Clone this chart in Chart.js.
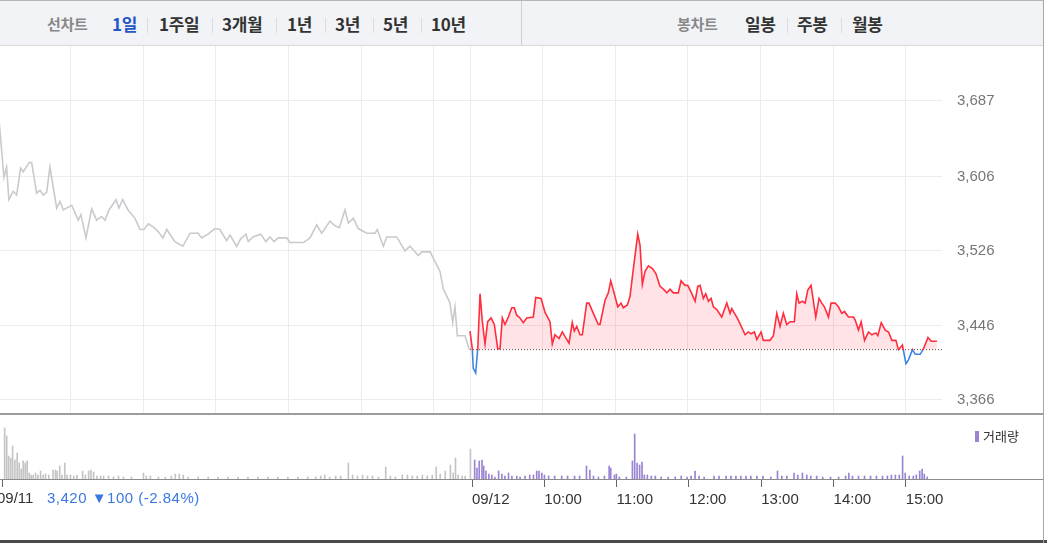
<!DOCTYPE html>
<html lang="ko">
<head>
<meta charset="utf-8">
<script src="https://cdn.jsdelivr.net/npm/chart.js@4.4.1/dist/chart.umd.min.js"></script>
<style>
  body{margin:0;width:1047px;height:543px;overflow:hidden;background:#fff;position:relative;font-family:"Liberation Sans",Arial,"Noto Sans CJK KR",sans-serif}
  #top{position:absolute;left:0;top:0;width:1044px;height:44px;background:#f2f3f7;border-top:1px solid #b5b5b5;border-bottom:1px solid #d9d9d9}
  .t{position:absolute;top:0;line-height:46px;font-size:17px;font-weight:bold;color:#333;font-family:"Noto Sans CJK KR",sans-serif;letter-spacing:-0.3px;white-space:nowrap}
  .g{font-size:15px;color:#888}
  .sep{position:absolute;top:17px;width:1px;height:15px;background:#dcdcdc}
  canvas{position:absolute;left:-2px}
  #price{top:46px}
  #vol{top:415px}
  .line{position:absolute;left:0}
  #info{position:absolute;top:488px;left:47px;font-size:15px;color:#3a78e0;white-space:nowrap;line-height:20px;letter-spacing:0.5px}
  #day1{position:absolute;top:488px;left:-3px;font-size:15px;color:#333;line-height:20px}
  #lg{position:absolute;top:427px;left:975px;font-size:13px;color:#333;font-family:"Noto Sans CJK KR",sans-serif;line-height:18px;white-space:nowrap}
  #lg i{display:inline-block;width:4px;height:11px;background:#9b83d3;margin-right:4px;vertical-align:-1px}
</style>
</head>
<body>
<div id="top">
  <span class="t g" style="left:47px">선차트</span>
  <span class="t" style="left:112px;color:#2456c6">1일</span>
  <div class="sep" style="left:147px"></div>
  <span class="t" style="left:159px">1주일</span>
  <div class="sep" style="left:212px"></div>
  <span class="t" style="left:222px">3개월</span>
  <div class="sep" style="left:276px"></div>
  <span class="t" style="left:287px">1년</span>
  <div class="sep" style="left:325px"></div>
  <span class="t" style="left:335px">3년</span>
  <div class="sep" style="left:373px"></div>
  <span class="t" style="left:383px">5년</span>
  <div class="sep" style="left:421px"></div>
  <span class="t" style="left:431px">10년</span>
  <div class="sep" style="left:521px;top:0;height:44px;background:#cfcfcf"></div>
  <span class="t g" style="left:677px">봉차트</span>
  <span class="t" style="left:745px">일봉</span>
  <div class="sep" style="left:787px"></div>
  <span class="t" style="left:797px">주봉</span>
  <div class="sep" style="left:841px"></div>
  <span class="t" style="left:852px">월봉</span>
</div>

<canvas id="price" width="1049" height="367"></canvas>
<canvas id="vol" width="1049" height="128"></canvas>

<div class="line" style="top:413px;width:1044px;height:2px;background:#9c9c9c"></div>
<div class="line" style="top:479px;width:1044px;height:1px;background:#8c8c8c"></div>
<div class="line" style="top:540px;width:1047px;height:3px;background:#4a4a4a"></div>
<div class="line" style="left:1043px;top:0;width:1px;height:543px;background:#a8a8a8"></div>

<div id="day1">09/11</div>
<div id="info">3,420 ▼100 (-2.84%)</div>
<div id="lg"><i></i>거래량</div>

<script>
// minutes since 09:00 on 09/11; 09/12 session starts at 390
const day1Time = [0, 4.9, 7.1, 9, 12.6, 15.4, 18.7, 20.9, 25.8, 27.8, 31.9, 34.7, 37.4, 40.2, 42.9, 48.5, 51.2, 53.9, 60.9, 66.3, 68.5, 72.7, 77.4, 81.5, 85.6, 88.4, 91.7, 97.5, 99.9, 103, 107.4, 113.2, 117.3, 120.6, 124.2, 128, 132.2, 136.3, 139.4, 146.2, 152.8, 158.6, 165.2, 168.3, 173.5, 179.3, 183.4, 188.9, 191.7, 197.2, 200.5, 204.9, 206.8, 210.7, 217.1, 221.4, 224.7, 228, 231.6, 238.5, 241.3, 252.3, 257.8, 263.3, 267.5, 274.3, 278.5, 282, 286.7, 289.5, 293.6, 297.7, 304.7, 311.5, 313.4, 318.4, 321.2, 329.5, 336.3, 340.4, 347.3, 350.1, 357, 365.2, 368, 373.5, 375.7, 377.6, 379.5, 385.9, 389.5];
const day1Price = [3680, 3605, 3616, 3581, 3590, 3586, 3615, 3611, 3621, 3621, 3588, 3591, 3586, 3589, 3616, 3572, 3579, 3570, 3575, 3559, 3565, 3540, 3571, 3559, 3563, 3559, 3570, 3581, 3572, 3581, 3570, 3561, 3549, 3549, 3555, 3552, 3547, 3540, 3549, 3536, 3531, 3545, 3545, 3540, 3544, 3550, 3549, 3537, 3543, 3531, 3539, 3544, 3536, 3541, 3544, 3536, 3541, 3536, 3540, 3540, 3535, 3535, 3540, 3554, 3545, 3558, 3553, 3551, 3570, 3556, 3561, 3550, 3545, 3545, 3549, 3531, 3541, 3541, 3526, 3531, 3521, 3525, 3525, 3504, 3485, 3470, 3449, 3466, 3435, 3435, 3420];

const day2Time = [390, 391.9, 392.7, 394.7, 396.4, 398.3, 400.2, 402.4, 404.6, 407.4, 410.1, 412.9, 414.8, 416.7, 418.9, 421.7, 424.5, 426.6, 428.6, 431.3, 434, 436.9, 442.3, 444.3, 448.7, 452, 456.1, 458, 460.2, 463.6, 466.3, 468.5, 471.8, 474.5, 476.2, 478.2, 480.9, 482.8, 486.4, 488.3, 491.9, 496, 497.4, 501.6, 504.3, 506.3, 508.4, 512.1, 514.8, 516.7, 520, 522.2, 525, 528.6, 530.5, 532.4, 534.6, 537.4, 540.7, 543.5, 547, 549.8, 552.6, 555.3, 558, 562.1, 564.4, 567.7, 569.9, 572.6, 576, 578.2, 580.1, 582.8, 584.8, 587, 589.2, 591.1, 593.9, 598, 602.2, 604.9, 606.3, 610.4, 613.1, 617.3, 620, 622.2, 625, 627, 630.5, 632.4, 637.9, 640.7, 643.5, 646.2, 648.9, 651.7, 654.5, 658, 660, 661.9, 664.6, 666.9, 669.1, 671.8, 675.7, 678.4, 680.7, 682.8, 686.2, 688.3, 691.7, 694.4, 697.2, 699.4, 702.7, 706.8, 708.2, 711, 713.2, 716, 719.3, 722.1, 725.4, 727, 729.8, 733.1, 735.8, 738.6, 741.9, 744, 747.3, 750.2, 752.3, 755.6, 757.9, 762, 764.7, 768.4, 771.1, 775.8];
const day2Price = [3440, 3421, 3400, 3395, 3421, 3480, 3450, 3426, 3450, 3454, 3447, 3421, 3421, 3454, 3447, 3455, 3465, 3465, 3457, 3454, 3449, 3454, 3455, 3476, 3475, 3460, 3450, 3426, 3436, 3432, 3439, 3434, 3427, 3449, 3440, 3445, 3436, 3436, 3470, 3470, 3459, 3447, 3447, 3473, 3481, 3494, 3484, 3466, 3470, 3465, 3468, 3477, 3507, 3544, 3532, 3490, 3504, 3510, 3507, 3502, 3488, 3485, 3481, 3485, 3481, 3481, 3494, 3489, 3489, 3482, 3472, 3488, 3489, 3475, 3480, 3472, 3475, 3466, 3463, 3455, 3470, 3459, 3464, 3455, 3448, 3436, 3439, 3437, 3439, 3431, 3439, 3430, 3430, 3435, 3459, 3445, 3459, 3447, 3450, 3450, 3480, 3470, 3472, 3470, 3484, 3489, 3455, 3475, 3470, 3466, 3455, 3470, 3470, 3466, 3459, 3461, 3455, 3455, 3452, 3441, 3450, 3430, 3439, 3436, 3438, 3435, 3449, 3441, 3439, 3430, 3430, 3420, 3425, 3405, 3409, 3420, 3415, 3415, 3421, 3433, 3429, 3429];

const prevClose = 3420;
const priceTicks = [3366, 3446, 3526, 3606, 3687];
const gridTimes = [60, 120, 180, 240, 300, 360, 390, 450, 510, 570, 630, 690, 750];
const axisTimes = [0, 390, 450, 510, 570, 630, 690, 750];
const axisLabels = ["09/11", "09/12", "10:00", "11:00", "12:00", "13:00", "14:00", "15:00"];

// volume (relative units)
const vol1Time = [2.2, 3.9, 5.5, 7.2, 8.8, 10.7, 12.6, 14.3, 16, 17.6, 19.3, 20.9, 22.6, 24.2, 25.9, 27.9, 29.8, 32, 34.1, 36.1, 38.8, 42.4, 44.4, 45.7, 47.9, 49.8, 52.1, 54, 56.8, 59.5, 62.2, 66.9, 69.2, 71.9, 73.8, 76, 78.8, 81.8, 84.3, 88.4, 92.6, 96.7, 100.8, 107.4, 117.4, 119.8, 123.1, 129.8, 135.5, 140.5, 143.8, 147.1, 150.4, 154.5, 162.8, 171.1, 179.3, 187.6, 195.9, 204.1, 212.4, 220.7, 228.9, 237.2, 245.5, 253.7, 260.3, 264.5, 267.8, 271.9, 276.9, 281, 287.4, 290.9, 295, 299.2, 303.3, 307.4, 312.4, 318.4, 322.3, 326.4, 332.2, 336.4, 340.5, 344.6, 348.8, 352.9, 357, 360.3, 363.6, 367.8, 372.1, 374.4, 376.3, 378.5, 381.8, 384.3, 388.7];
const vol1 = [51, 43, 23, 21, 33, 19, 26, 16, 10, 18, 16, 18, 6, 4, 4, 6, 4, 8, 4, 5, 4, 9, 9, 8, 13, 4, 16, 4, 4, 3, 4, 8, 4, 8, 9, 7, 3, 3, 3, 3, 2, 3, 2, 2, 6, 3, 3, 2, 2, 3, 5, 5, 4, 2, 2, 2, 2, 2, 2, 2, 2, 2, 2, 2, 2, 2, 2, 3, 4, 2, 3, 3, 16, 4, 3, 4, 3, 3, 2, 12, 3, 2, 4, 4, 3, 3, 4, 3, 4, 12, 5, 8, 14, 6, 21, 4, 3, 3, 30];
const vol2Time = [392.2, 394.1, 396, 398.3, 399.7, 401.6, 404, 406.5, 409, 412.1, 414.8, 417.3, 420.3, 423.1, 427.2, 429.9, 434, 437.9, 441, 443.7, 445.6, 447.9, 450.1, 453.6, 458.6, 464.4, 469.3, 475.1, 479.3, 485, 487.8, 490.8, 494.9, 499.9, 503.8, 505.1, 508.2, 509.8, 512.3, 518.1, 523.1, 525, 527, 529.1, 531.1, 533, 535.5, 538.8, 542.1, 547, 552.8, 558.6, 563.6, 568.5, 571.8, 575.1, 578.4, 582.6, 590.8, 595, 600.8, 604.9, 609, 613.1, 617.3, 621.4, 626.4, 631.4, 638, 643.5, 647.1, 651.2, 657.2, 660.3, 664.2, 667.8, 671.1, 676, 681, 687.5, 694.2, 700, 702.7, 705.7, 710.7, 715.7, 720.7, 725.6, 730.6, 734.7, 738, 741.3, 744.6, 747.3, 749.5, 752.8, 756.2, 758.7, 761.5, 763.5, 765.3, 767.7];
const vol2 = [19, 11, 18, 19, 13, 8, 5, 4, 2, 8, 5, 3, 6, 3, 3, 2, 3, 4, 4, 8, 8, 6, 4, 3, 3, 3, 3, 3, 3, 13, 9, 3, 2, 3, 13, 11, 4, 5, 2, 2, 18, 45, 16, 14, 17, 4, 4, 3, 3, 2, 2, 2, 3, 2, 3, 8, 3, 2, 3, 3, 3, 3, 3, 3, 3, 3, 3, 3, 2, 8, 3, 3, 6, 4, 6, 4, 3, 3, 2, 2, 2, 3, 6, 3, 3, 3, 3, 3, 3, 3, 4, 4, 4, 23, 6, 3, 3, 4, 8, 10, 5, 2];

const RED = "#ff2d3d", BLUE = "#3f86e2";
const FONT = "Liberation Sans";
let chart1, chart2;

function pts(t, v){
  return t.map((x, i) => ({x: x, y: v[i]}));
}

// red above the previous close, blue below it
function lineColor(c){
  const ch = c.chart, a = ch.chartArea;
  if(!a) return RED;
  const y = ch.scales.y.getPixelForValue(prevClose);
  const s = Math.min(Math.max((y - a.top) / (a.bottom - a.top), 0), 1);
  const g = ch.ctx.createLinearGradient(0, a.top, 0, a.bottom);
  g.addColorStop(0, RED);
  g.addColorStop(s, RED);
  g.addColorStop(s, BLUE);
  g.addColorStop(1, BLUE);
  return g;
}

chart1 = new Chart(document.getElementById("price"), {
  type: "line",
  data: {datasets: [
    {data: pts(day2Time, day2Price), borderColor: lineColor, borderWidth: 1.6, pointRadius: 0,
     fill: {value: prevClose, above: "rgba(255,0,25,0.11)", below: "rgba(0,0,0,0)"}, order: 0},
    {data: [{x: 390, y: prevClose}, {x: 780, y: prevClose}], borderColor: "#555", borderWidth: 1,
     borderDash: [1, 2], pointRadius: 0, order: 1},
    {data: pts(day1Time, day1Price), borderColor: "#c8cace", borderWidth: 1.6, pointRadius: 0, order: 2}
  ]},
  options: {
    responsive: false, animation: false, events: [],
    plugins: {legend: {display: false}, tooltip: {enabled: false}},
    layout: {padding: 0},
    scales: {
      x: {type: "linear", min: 0, max: 780,
          afterBuildTicks: s => { s.ticks = gridTimes.map(v => ({value: v})); },
          afterFit: s => { s.height = 0; s.paddingLeft = 0; s.paddingRight = 0; },
          ticks: {display: false}, grid: {color: "#ececec", drawTicks: false}, border: {display: false}},
      y: {position: "right", min: 3352, max: 3746,
          afterBuildTicks: s => { s.ticks = priceTicks.map(v => ({value: v})); },
          afterFit: s => { s.width = 105; s.paddingTop = 0; s.paddingBottom = 0; },
          ticks: {padding: 15, color: "#777", font: {family: FONT, size: 15},
                  callback: v => v.toLocaleString("en-US")},
          grid: {color: "#ececec", drawTicks: false}, border: {display: false}}
    }
  }
});

chart2 = new Chart(document.getElementById("vol"), {
  type: "bar",
  data: {datasets: [
    {data: pts(vol1Time, vol1), backgroundColor: "#c4c4c4", barThickness: 1, grouped: false},
    {data: pts(vol2Time, vol2), backgroundColor: "#9b83d3", barThickness: 1, grouped: false}
  ]},
  options: {
    responsive: false, animation: false, events: [],
    plugins: {legend: {display: false}, tooltip: {enabled: false}},
    layout: {padding: {right: 105}},
    scales: {
      x: {type: "linear", min: 0, max: 780, offset: false,
          afterBuildTicks: s => { s.ticks = axisTimes.map(v => ({value: v})); },
          afterFit: s => { s.height = 64; },
          ticks: {autoSkip: false, maxRotation: 0, align: "start", padding: 4, color: "#333",
                  font: {family: FONT, size: 15},
                  callback: v => v === 0 ? "" : axisLabels[axisTimes.indexOf(v)]},
          grid: {offset: false, drawOnChartArea: false, drawTicks: true, tickLength: 8, color: "#666"},
          border: {display: false}},
      y: {display: false, min: 0, max: 64}
    }
  }
});
</script>
</body>
</html>
